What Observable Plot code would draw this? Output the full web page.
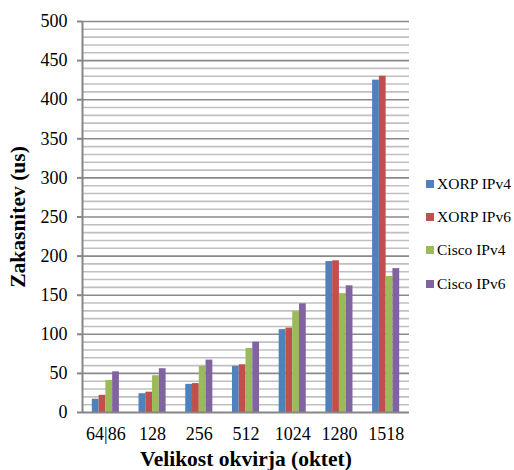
<!DOCTYPE html>
<html>
<head>
<meta charset="utf-8">
<script src="https://cdn.jsdelivr.net/npm/d3@7"></script>
<script src="https://cdn.jsdelivr.net/npm/@observablehq/plot@0.6"></script>
<style>
  body { margin: 0; background: #fff; }
  #chart { position: relative; width: 514px; height: 470px; font-family: "Liberation Serif", "Times New Roman", Times, serif; }
  #chart svg { display: block; }
  #chart svg, #chart svg text { font-family: "Liberation Serif", "Times New Roman", Times, serif !important; }
  .legend { position: absolute; left: 426px; top: 167px; font-family: "Liberation Serif", "Times New Roman", Times, serif; }
  .legend .item { display: flex; align-items: center; height: 33.4px; font-size: 15.5px; color: #000; white-space: nowrap; }
  .legend .sw { width: 8px; height: 8px; margin-right: 3px; flex: none; }
</style>
</head>
<body>
<div id="chart"></div>
<script>
// Frame sizes (octets) on the horizontal axis
const categories = ["64|86", "128", "256", "512", "1024", "1280", "1518"];

// Latency per frame size, microseconds
const xorpIPv4  = [17, 24, 36, 59, 106, 193, 425];
const xorpIPv6  = [22, 26, 37, 61, 108, 194, 430];
const ciscoIPv4 = [41, 47, 59, 82, 129, 152, 174];
const ciscoIPv6 = [52, 56, 67, 90, 139, 162, 184];

const seriesNames = ["XORP IPv4", "XORP IPv6", "Cisco IPv4", "Cisco IPv6"];
const seriesColors = ["#4F81BD", "#C0504D", "#9BBB59", "#8064A2"];
const seriesValues = [xorpIPv4, xorpIPv6, ciscoIPv4, ciscoIPv6];

const yTicks = d3.range(0, 501, 50);
const yMinor = d3.range(0, 501, 10).filter(v => v % 50 !== 0);

// Each category occupies one unit on a linear x scale; its four bars share the middle part.
const groupWidth = 0.58;
const barWidth = groupWidth / seriesNames.length;
const rows = [];
seriesValues.forEach((values, s) => {
  values.forEach((value, i) => {
    const left = i + 0.5 - groupWidth / 2 + s * barWidth;
    rows.push({category: categories[i], series: seriesNames[s], value, x1: left, x2: left + barWidth});
  });
});

const serif = "'Liberation Serif', 'Times New Roman', Times, serif";

const chart = Plot.plot({
  width: 514,
  height: 470,
  marginLeft: 82,
  marginRight: 105,
  marginTop: 21,
  marginBottom: 58,
  style: {fontFamily: serif, fontSize: "18px", background: "#fff", color: "#000"},
  x: {domain: [0, categories.length], axis: null},
  y: {domain: [0, 500], axis: null},
  color: {domain: seriesNames, range: seriesColors},
  marks: [
    Plot.ruleY(yMinor, {stroke: "#c0c0c0", strokeWidth: 1.6}),
    Plot.ruleY(yTicks.filter(v => v > 0), {stroke: "#8a8a8a", strokeWidth: 1.6}),
    Plot.rectY(rows, {x1: "x1", x2: "x2", y1: 0, y2: "value", fill: "series"}),
    Plot.ruleX([0], {stroke: "#868686", strokeWidth: 2}),
    Plot.ruleY([0], {stroke: "#868686", strokeWidth: 2}),
    Plot.axisY({ticks: yTicks, tickSize: 5, tickPadding: 10, stroke: "#868686", strokeWidth: 2, color: "#000", fontSize: 18, fontFamily: serif, label: null}),
    Plot.axisX({
      ticks: categories.map((_, i) => i + 0.5),
      tickFormat: d => categories[Math.round(d - 0.5)],
      tickSize: 0,
      tickPadding: 15,
      fontSize: 18,
      fontFamily: serif,
      color: "#000",
      label: null
    }),
    Plot.text(["Velikost okvirja (oktet)"], {frameAnchor: "bottom", dy: 47, textAnchor: "middle", lineAnchor: "middle", fontWeight: "bold", fontSize: 21.5, fontFamily: serif, fill: "#000"}),
    Plot.text(["Zakasnitev (us)"], {frameAnchor: "left", dx: -64, rotate: -90, textAnchor: "middle", lineAnchor: "middle", fontWeight: "bold", fontSize: 21.5, fontFamily: serif, fill: "#000"})
  ]
});

const root = document.getElementById("chart");
root.appendChild(chart);

// Series legend to the right of the plot
const legend = document.createElement("div");
legend.className = "legend";
seriesNames.forEach((name, s) => {
  const item = document.createElement("div");
  item.className = "item";
  const sw = document.createElement("span");
  sw.className = "sw";
  sw.style.background = seriesColors[s];
  const label = document.createElement("span");
  label.textContent = name;
  item.append(sw, label);
  legend.appendChild(item);
});
root.appendChild(legend);
</script>
</body>
</html>
